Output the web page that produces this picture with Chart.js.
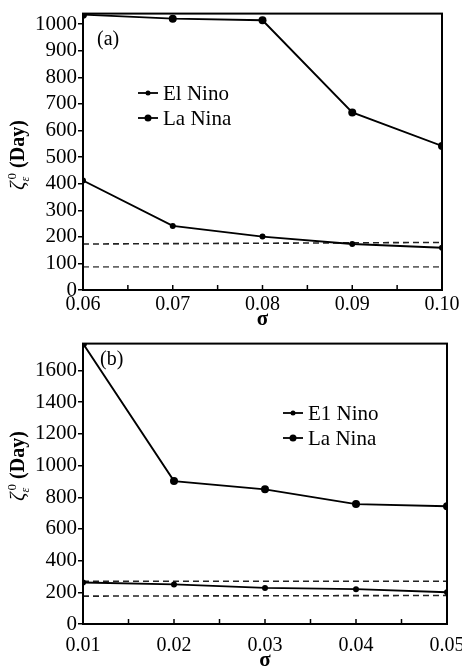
<!DOCTYPE html>
<html><head><meta charset="utf-8">
<script src="https://cdn.jsdelivr.net/npm/chart.js@4.4.1/dist/chart.umd.min.js"></script>
<style>
html,body{margin:0;padding:0;background:#fff;overflow:hidden;width:462px;height:671px}
#c1{position:absolute;left:0;top:0}
#c2{position:absolute;left:0;top:330px}
</style></head><body>
<canvas id="c1" width="470" height="330"></canvas>
<canvas id="c2" width="476" height="341"></canvas>
<script>
// ---- Panel (a) data ----
const sigmaA = [0.06, 0.07, 0.08, 0.09, 0.10];
const xLabelsA = ["0.06", "0.07", "0.08", "0.09", "0.10"];
const elNinoA = [412, 241, 201, 173, 159];
const laNinaA = [1036, 1021, 1015, 668, 542];
const refA1 = [173, 179];
const refA2 = [87, 87];
const yTicksA = [0, 100, 200, 300, 400, 500, 600, 700, 800, 900, 1000];
// ---- Panel (b) data ----
const sigmaB = [0.01, 0.02, 0.03, 0.04, 0.05];
const xLabelsB = ["0.01", "0.02", "0.03", "0.04", "0.05"];
const elNinoB = [262, 250, 228, 220, 200];
const laNinaB = [1770, 902, 850, 757, 743];
const refB1 = [270, 270];
const refB2 = [176, 180];
const yTicksB = [0, 200, 400, 600, 800, 1000, 1200, 1400, 1600];

const SERIF = '"Liberation Serif", "Times New Roman", serif';

const boxPlugin = {
  id: 'boxAndTicks',
  afterDraw(chart) {
    const {ctx, chartArea: a} = chart;
    const xs = chart.scales.x;
    ctx.save();
    ctx.strokeStyle = '#000';
    ctx.lineWidth = 2;
    ctx.strokeRect(a.left, a.top, a.right - a.left, a.bottom - a.top);
    const vals = xs.ticks.map(t => t.value);
    ctx.lineWidth = 1.5;
    for (let i = 0; i < vals.length; i++) {
      const pos = [vals[i]];
      if (i < vals.length - 1) pos.push((vals[i] + vals[i + 1]) / 2);
      pos.forEach(v => {
        const px = xs.getPixelForValue(v);
        ctx.beginPath(); ctx.moveTo(px, a.bottom); ctx.lineTo(px, a.bottom - 5); ctx.stroke();
      });
    }
    ctx.restore();
  }
};

const textPlugin = {
  id: 'extraText',
  afterDraw(chart, args, o) {
    const ctx = chart.ctx;
    ctx.save();
    ctx.fillStyle = '#000';
    ctx.font = '20px ' + SERIF;
    ctx.textBaseline = 'middle';
    ctx.textAlign = 'left';
    ctx.fillText(o.panel, o.panelX, o.panelY);
    const items = chart.data.datasets.filter(d => d.label);
    items.forEach((d, i) => {
      const y = o.legY + i * o.legRow;
      ctx.strokeStyle = '#000'; ctx.lineWidth = 1.8;
      ctx.beginPath(); ctx.moveTo(o.legX, y); ctx.lineTo(o.legX + o.legLen, y); ctx.stroke();
      ctx.beginPath(); ctx.arc(o.legX + o.legLen / 2, y, d.pointRadius - 0.5, 0, Math.PI * 2); ctx.fill();
      ctx.font = '21px ' + SERIF;
      ctx.textAlign = 'left'; ctx.textBaseline = 'middle';
      ctx.fillText(d.label, o.legX + o.legLen + 5, y + 1);
    });
    ctx.translate(o.tX, o.tY);
    ctx.rotate(-Math.PI / 2);
    ctx.textBaseline = 'alphabetic'; ctx.textAlign = 'left';
    const fMain = 'italic 21px ' + SERIF, fSub = 'italic 12px ' + SERIF, fSup = '13px ' + SERIF, fDay = 'bold 20px ' + SERIF;
    ctx.font = fMain; const w1 = ctx.measureText('ζ').width;
    ctx.font = fSub; const w2 = ctx.measureText('ε').width;
    ctx.font = fSup; const w3 = ctx.measureText('0').width;
    ctx.font = fDay; const w4 = ctx.measureText(' (Day)').width;
    const total = w1 + Math.max(w2, w3) + 2 + w4;
    let x = -total / 2; const base = 6;
    ctx.font = fMain; ctx.fillText('ζ', x, base); x += w1;
    ctx.font = fSub; ctx.fillText('ε', x, base + 5);
    ctx.font = fSup; ctx.fillText('0', x + 2, base - 8);
    x += Math.max(w2, w3) + 2;
    ctx.font = fDay; ctx.fillText(' (Day)', x, base);
    ctx.restore();
  }
};

function pts(xs, ys) { return xs.map((x, i) => ({x: x, y: ys[i]})); }
function refLine(xs, r) { return [{x: xs[0], y: r[0]}, {x: xs[xs.length - 1], y: r[1]}]; }

function makeChart(id, cfg) {
  const dashed = (r, col) => ({
    label: '', data: refLine(cfg.sigma, r), borderColor: col, borderWidth: 1.6,
    borderDash: [6, 4], pointRadius: 0, fill: false
  });
  return new Chart(document.getElementById(id), {
    type: 'line',
    data: {
      datasets: [
        {label: cfg.elLabel, data: pts(cfg.sigma, cfg.el), borderColor: '#000', backgroundColor: '#000',
         borderWidth: 1.9, pointRadius: 3, pointBorderWidth: 0, tension: 0},
        {label: 'La Nina', data: pts(cfg.sigma, cfg.la), borderColor: '#000', backgroundColor: '#000',
         borderWidth: 1.9, pointRadius: 4, pointBorderWidth: 0, tension: 0},
        dashed(cfg.ref1, '#222'),
        dashed(cfg.ref2, cfg.ref2Col)
      ]
    },
    options: {
      responsive: false, animation: false, devicePixelRatio: 1,
      layout: {padding: {left: 0, top: cfg.padTop, right: cfg.padRight, bottom: 0}},
      plugins: {legend: {display: false}, tooltip: {enabled: false},
        extraText: cfg.text},
      scales: {
        x: {
          type: 'linear', min: cfg.sigma[0], max: cfg.sigma[cfg.sigma.length - 1],
          afterBuildTicks: s => { s.ticks = cfg.sigma.map(v => ({value: v})); },
          afterFit: s => { s.height = cfg.xH; },
          grid: {display: false, drawTicks: false, tickLength: 0},
          border: {display: true, color: '#000', width: 2},
          ticks: {color: '#000', font: {family: SERIF, size: 20}, padding: cfg.xPad,
            maxRotation: 0, autoSkip: false, callback: (v, i) => cfg.xLabels[i]},
          title: {display: true, text: 'σ', color: '#000', font: {family: SERIF, size: 21, weight: 'bold', lineHeight: 1},
            padding: {top: 0, bottom: cfg.tPad}}
        },
        y: {
          type: 'linear', min: 0, max: cfg.yMax,
          afterBuildTicks: s => { s.ticks = cfg.yTicks.map(v => ({value: v})); },
          afterFit: s => { s.width = cfg.yW; },
          grid: {display: true, drawOnChartArea: false, drawTicks: true, tickLength: 5, color: '#000', lineWidth: 1.5},
          border: {display: true, color: '#000', width: 2},
          ticks: {color: '#000', font: {family: SERIF, size: 21}, padding: 1, autoSkip: false,
            callback: v => String(v)}
        }
      }
    },
    plugins: [boxPlugin, textPlugin]
  });
}

makeChart('c1', {
  sigma: sigmaA, xLabels: xLabelsA, el: elNinoA, la: laNinaA, ref1: refA1, ref2: refA2, ref2Col: '#666',
  yTicks: yTicksA, yMax: 1040, elLabel: 'El Nino', padTop: 10, padRight: 28, xH: 40, yW: 83, xPad: 3, tPad: 0,
  text: {panel: '(a)', panelX: 97, panelY: 40, legX: 138, legY: 93, legRow: 25, legLen: 20, tX: 18, tY: 155}
});
makeChart('c2', {
  sigma: sigmaB, xLabels: xLabelsB, el: elNinoB, la: laNinaB, ref1: refB1, ref2: refB2, ref2Col: '#222',
  yTicks: yTicksB, yMax: 1770, elLabel: 'E1 Nino', padTop: 13, padRight: 29, xH: 47, yW: 83, xPad: 10, tPad: 0,
  text: {panel: '(b)', panelX: 100, panelY: 30, legX: 283, legY: 83, legRow: 25, legLen: 20, tX: 18, tY: 136}
});
</script>
</body></html>
